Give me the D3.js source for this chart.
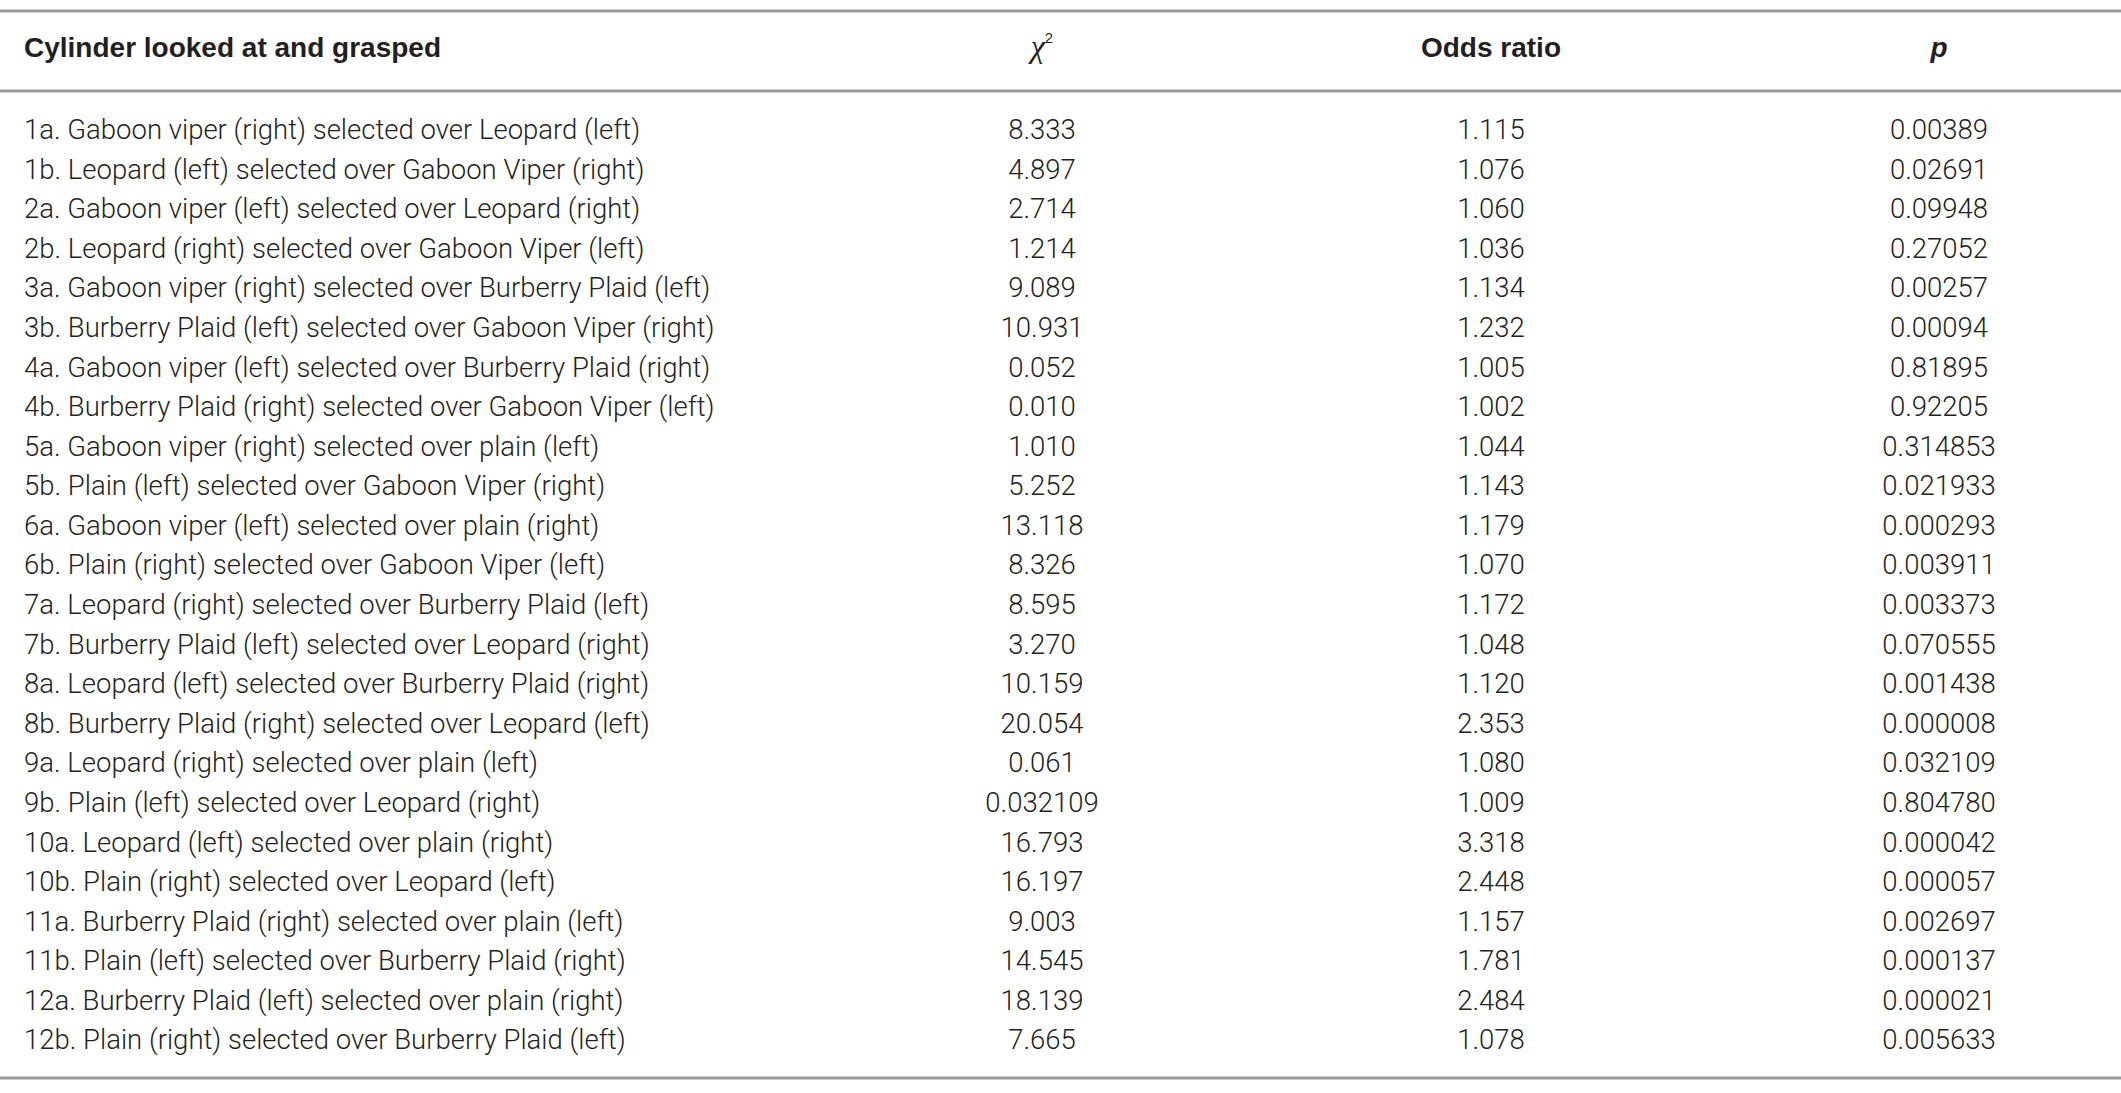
<!DOCTYPE html>
<html><head><meta charset="utf-8">
<script src="https://cdn.jsdelivr.net/npm/d3@7"></script>
<style>
html,body{margin:0;padding:0;background:#fff;}
svg{display:block;}
</style></head>
<body>
<script>
const columns = ["Cylinder looked at and grasped", "χ2", "Odds ratio", "p"];
const conditions = [
 "1a. Gaboon viper (right) selected over Leopard (left)",
 "1b. Leopard (left) selected over Gaboon Viper (right)",
 "2a. Gaboon viper (left) selected over Leopard (right)",
 "2b. Leopard (right) selected over Gaboon Viper (left)",
 "3a. Gaboon viper (right) selected over Burberry Plaid (left)",
 "3b. Burberry Plaid (left) selected over Gaboon Viper (right)",
 "4a. Gaboon viper (left) selected over Burberry Plaid (right)",
 "4b. Burberry Plaid (right) selected over Gaboon Viper (left)",
 "5a. Gaboon viper (right) selected over plain (left)",
 "5b. Plain (left) selected over Gaboon Viper (right)",
 "6a. Gaboon viper (left) selected over plain (right)",
 "6b. Plain (right) selected over Gaboon Viper (left)",
 "7a. Leopard (right) selected over Burberry Plaid (left)",
 "7b. Burberry Plaid (left) selected over Leopard (right)",
 "8a. Leopard (left) selected over Burberry Plaid (right)",
 "8b. Burberry Plaid (right) selected over Leopard (left)",
 "9a. Leopard (right) selected over plain (left)",
 "9b. Plain (left) selected over Leopard (right)",
 "10a. Leopard (left) selected over plain (right)",
 "10b. Plain (right) selected over Leopard (left)",
 "11a. Burberry Plaid (right) selected over plain (left)",
 "11b. Plain (left) selected over Burberry Plaid (right)",
 "12a. Burberry Plaid (left) selected over plain (right)",
 "12b. Plain (right) selected over Burberry Plaid (left)"
];
const chiSquare = ["8.333","4.897","2.714","1.214","9.089","10.931","0.052","0.010","1.010","5.252","13.118","8.326","8.595","3.270","10.159","20.054","0.061","0.032109","16.793","16.197","9.003","14.545","18.139","7.665"];
const oddsRatio = ["1.115","1.076","1.060","1.036","1.134","1.232","1.005","1.002","1.044","1.143","1.179","1.070","1.172","1.048","1.120","2.353","1.080","1.009","3.318","2.448","1.157","1.781","2.484","1.078"];
const pValue = ["0.00389","0.02691","0.09948","0.27052","0.00257","0.00094","0.81895","0.92205","0.314853","0.021933","0.000293","0.003911","0.003373","0.070555","0.001438","0.000008","0.032109","0.804780","0.000042","0.000057","0.002697","0.000137","0.000021","0.005633"];

const W = 2121, H = 1093;
const svg = d3.select("body").append("svg").attr("width", W).attr("height", H);

const y = d3.scaleBand().domain(conditions).range([112, 1062]);
const x = d3.scaleOrdinal().domain(columns).range([24, 1042, 1491, 1939]);
const textColor = "#231f20";
const lineColor = "#9a9a9a";
const bodyFont = "Roboto";
const fs = 27.5;

// rules
[11, 91, 1078].forEach(v => {
  svg.append("line").attr("x1", 0).attr("x2", W).attr("y1", v).attr("y2", v)
    .attr("stroke", lineColor).attr("stroke-width", 3);
});

// header
const hy = 50;
const head = svg.append("g").attr("font-family", "Liberation Sans, Arial, sans-serif")
  .attr("font-weight", "bold").attr("font-size", 28).attr("fill", textColor);
head.append("text").attr("x", x(columns[0])).attr("y", hy).attr("dominant-baseline","middle").text(columns[0]);
const chiT = head.append("text").attr("x", x(columns[1])).attr("y", hy).attr("text-anchor","middle").attr("dominant-baseline","middle").attr("font-weight","normal");
chiT.append("tspan").attr("font-style","italic").attr("font-family","Liberation Serif, serif").attr("font-size", 32).text("χ");
chiT.append("tspan").attr("font-size", 15).attr("dy", -11).text("2");
head.append("text").attr("x", x(columns[2])).attr("y", hy).attr("text-anchor","middle").attr("dominant-baseline","middle").text(columns[2]);
head.append("text").attr("x", x(columns[3])).attr("y", hy).attr("text-anchor","middle").attr("dominant-baseline","middle").attr("font-style","italic").text(columns[3]);

// body
const rows = svg.append("g").attr("font-family", bodyFont).attr("font-weight", 300)
  .attr("font-size", fs).attr("fill", textColor);
conditions.forEach((c, i) => {
  const cy = y(c) + y.bandwidth() / 2;
  rows.append("text").attr("x", x(columns[0])).attr("y", cy).attr("dominant-baseline","middle").text(c);
  rows.append("text").attr("x", x(columns[1])).attr("y", cy).attr("text-anchor","middle").attr("dominant-baseline","middle").text(chiSquare[i]);
  rows.append("text").attr("x", x(columns[2])).attr("y", cy).attr("text-anchor","middle").attr("dominant-baseline","middle").text(oddsRatio[i]);
  rows.append("text").attr("x", x(columns[3])).attr("y", cy).attr("text-anchor","middle").attr("dominant-baseline","middle").text(pValue[i]);
});
</script>
</body></html>
